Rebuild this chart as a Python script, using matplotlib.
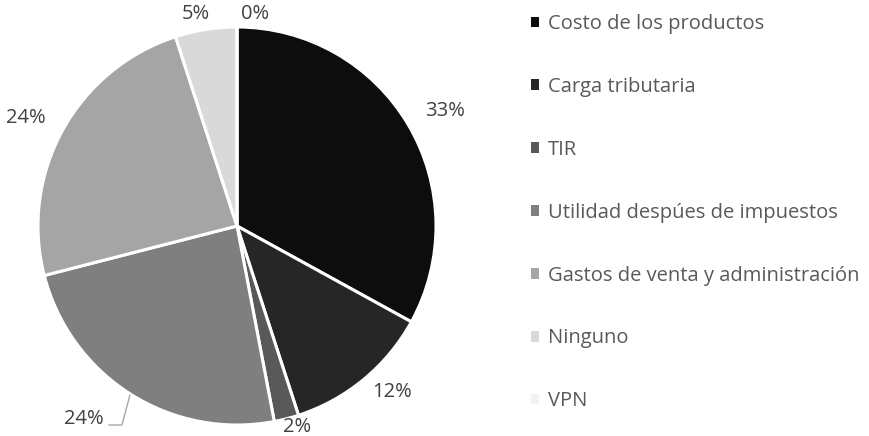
import numpy as np
import matplotlib
matplotlib.use("Agg")
import matplotlib.pyplot as plt

plt.rcParams['font.family'] = ['Open Sans', 'DejaVu Sans']

# datos
categorias = ["Costo de los productos", "Carga tributaria", "TIR",
              "Utilidad despúes de impuestos", "Gastos de venta y administración",
              "Ninguno", "VPN"]
valores = [33, 12, 2, 24, 24, 5, 0]
etiquetas = ["33%", "12%", "2%", "24%", "24%", "5%", "0%"]
colores = ["#0d0d0d", "#262626", "#595959", "#7f7f7f", "#a5a5a5", "#d9d9d9", "#f2f2f2"]

# posiciones de las etiquetas (radio del pastel = 1)
pos_etq = [(1.045, 0.578), (0.779, -0.834), (0.302, -1.01), (-0.769, -0.97),
           (-1.063, 0.543), (-0.206, 1.065), (0.09, 1.065)]

W, H = 870, 436
fig = plt.figure(figsize=(W / 100, H / 100), dpi=100)
cx, cy, r = 237, 226, 199
ax = fig.add_axes([(cx - r) / W, (H - cy - r) / H, 2 * r / W, 2 * r / H])

wedges, _ = ax.pie(valores, colors=colores, startangle=90, counterclock=False,
                   radius=1, wedgeprops=dict(edgecolor="white", linewidth=2.2))
ax.set_xlim(-1, 1)
ax.set_ylim(-1, 1)
ax.set_aspect("equal")
ax.axis("off")

for (x, y), t in zip(pos_etq, etiquetas):
    ax.text(x, y, t, ha="center", va="center", fontsize=14.5, color="#404040", clip_on=False)

# linea guia de la etiqueta 24% inferior
ax.plot([-0.643, -0.578, -0.538], [-1.0, -1.0, -0.849], color="#a6a6a6", lw=1, clip_on=False)

leg = fig.legend(wedges, categorias, loc="upper left", bbox_to_anchor=(531 / W, 1 - 14 / H),
                 frameon=False, fontsize=14.5, labelcolor="#595959",
                 handlelength=0.42, handleheight=0.42, handletextpad=0.4,
                 labelspacing=2.13, borderaxespad=0, borderpad=0)
for h in leg.legend_handles:
    h.set_edgecolor("none")

fig.savefig("out.png", dpi=100, facecolor="white")
